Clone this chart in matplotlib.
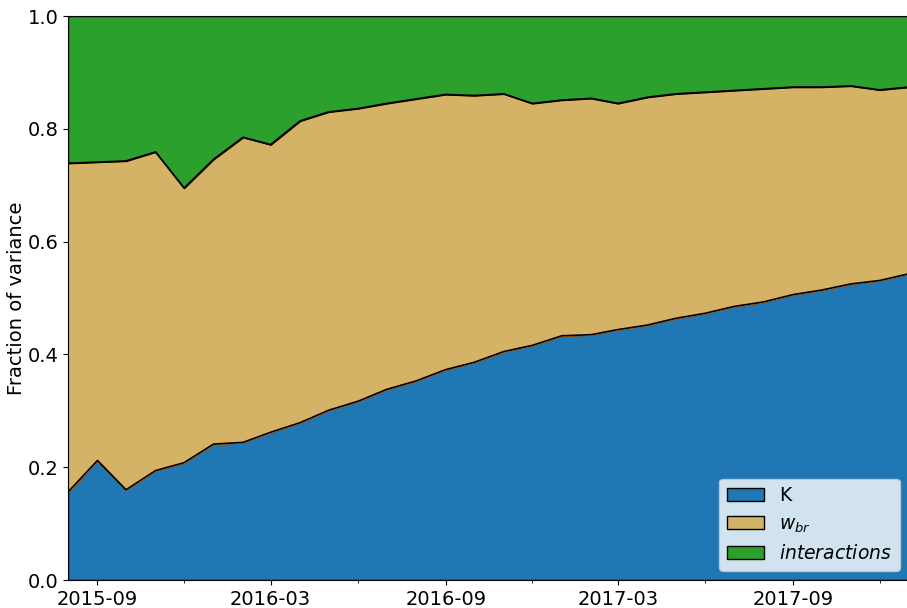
import numpy as np
import pandas as pd
import matplotlib
matplotlib.use("Agg")
import matplotlib.pyplot as plt
import matplotlib.dates as mdates
from matplotlib.patches import Patch

months = pd.date_range("2015-08-01", periods=30, freq="MS")

# fraction of variance explained by each component, per month
K = [0.156, 0.212, 0.160, 0.194, 0.208, 0.241, 0.244, 0.262, 0.279, 0.301,
     0.317, 0.338, 0.353, 0.373, 0.386, 0.405, 0.416, 0.433, 0.435, 0.444,
     0.452, 0.464, 0.473, 0.485, 0.493, 0.506, 0.514, 0.525, 0.531, 0.543]
w_br = [0.583, 0.529, 0.583, 0.565, 0.487, 0.505, 0.541, 0.510, 0.535, 0.529,
        0.519, 0.507, 0.500, 0.488, 0.473, 0.457, 0.429, 0.418, 0.419, 0.401,
        0.404, 0.398, 0.392, 0.383, 0.378, 0.368, 0.360, 0.351, 0.338, 0.331]
interactions = [0.261, 0.259, 0.257, 0.241, 0.305, 0.254, 0.215, 0.228, 0.186, 0.170,
                0.164, 0.155, 0.147, 0.139, 0.141, 0.138, 0.155, 0.149, 0.146, 0.155,
                0.144, 0.138, 0.135, 0.132, 0.129, 0.126, 0.126, 0.124, 0.131, 0.126]

labels = ["K", "$w_{br}$", "$interactions$"]
colors = ["#1f77b4", "#d4b266", "#2ca02c"]

fig = plt.figure(figsize=(9.07, 6.08), dpi=100)
ax = fig.add_axes([68 / 907, 28 / 608, 841 / 907, 564 / 608])

polys = ax.stackplot(months, K, w_br, interactions, colors=colors, linewidth=1)
polys[0].set_edgecolor("k")
polys[1].set_edgecolor("#ff7f0e")
polys[2].set_edgecolor("k")

# black outline along the stack boundaries
bounds = np.cumsum([K, w_br], axis=0)
for b in bounds:
    ax.plot(months, b, color="k", lw=1.2)

ax.set_xlim(months[0], months[-1])
ax.set_ylim(0, 1)
ax.xaxis.set_major_locator(mdates.MonthLocator(bymonth=[3, 9]))
ax.xaxis.set_minor_locator(mdates.MonthLocator(bymonth=[6, 12]))
ax.xaxis.set_major_formatter(mdates.DateFormatter("%Y-%m"))
ax.tick_params(axis="both", which="both", labelsize=14)
ax.set_ylabel("Fraction of variance", fontsize=14, labelpad=1)

handles = [Patch(facecolor=c, edgecolor="k", label=l) for c, l in zip(colors, labels)]
ax.legend(handles=handles, loc="lower right", fontsize=13.5)

fig.savefig("out.png", dpi=100)
